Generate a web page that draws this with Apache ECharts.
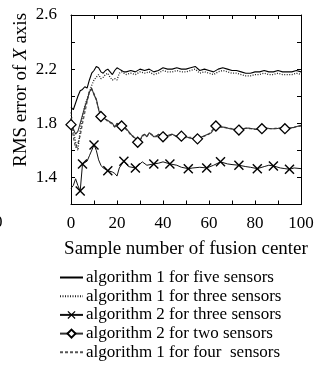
<!DOCTYPE html>
<html><head><meta charset="utf-8">
<script src="https://cdn.jsdelivr.net/npm/echarts@6/dist/echarts.min.js"></script>
<style>html,body{margin:0;padding:0;background:#fff}#c{width:324px;height:371px}</style>
</head><body><div id="c"></div>
<script>
const seriesNames = ['algorithm 1 for five sensors','algorithm 1 for three sensors','algorithm 2 for three sensors','algorithm 2 for two sensors','algorithm 1 for four  sensors'];
const xTickLabels = [0,20,40,60,80,100];
const yTickLabels = [1.4,1.8,2.2,2.6];

const fiveX = [0,1,2,3,4,5,6,7,8,9,10,11,12,13,14,15,16,17,18,19,20,21,22,23,24,26,28,30,32,34,36,38,40,42,44,46,48,50,52,54,56,58,60,62,64,66,68,70,72,74,76,78,80,82,84,86,88,90,92,94,96,98,100];
const fiveY = [1.92,1.90,1.95,2.00,2.04,2.05,2.07,2.06,2.12,2.17,2.19,2.22,2.21,2.18,2.17,2.19,2.20,2.18,2.16,2.19,2.21,2.20,2.19,2.18,2.18,2.19,2.18,2.20,2.19,2.20,2.18,2.19,2.21,2.20,2.20,2.21,2.20,2.20,2.21,2.22,2.19,2.20,2.19,2.18,2.20,2.21,2.20,2.19,2.19,2.18,2.17,2.17,2.18,2.18,2.19,2.18,2.18,2.19,2.18,2.18,2.18,2.19,2.18];

const threeX = fiveX;
const threeY = [1.88,1.75,1.66,1.60,1.75,1.85,1.93,1.98,2.03,2.08,2.12,2.14,2.16,2.13,2.14,2.16,2.17,2.14,2.12,2.13,2.12,2.17,2.18,2.17,2.16,2.17,2.16,2.18,2.17,2.18,2.16,2.17,2.19,2.18,2.18,2.19,2.18,2.18,2.19,2.20,2.17,2.18,2.17,2.16,2.18,2.19,2.18,2.17,2.17,2.16,2.15,2.15,2.16,2.16,2.17,2.16,2.16,2.17,2.16,2.16,2.16,2.17,2.16];

const crossX = [0,1,2,3,4,5,6,7,8,10,11,12,13,14,16,18,19,20,21,23,25,28,30,31,33,36,38,40,43,46,48,51,53,56,59,62,65,68,70,73,76,78,81,84,86,88,91,93,95,97,100];
const crossY = [1.32,1.34,1.39,1.34,1.30,1.50,1.51,1.52,1.56,1.64,1.60,1.53,1.49,1.47,1.45,1.44,1.43,1.41,1.47,1.52,1.48,1.47,1.50,1.515,1.49,1.50,1.505,1.515,1.50,1.49,1.475,1.465,1.47,1.475,1.47,1.49,1.515,1.50,1.495,1.49,1.48,1.475,1.465,1.48,1.49,1.485,1.47,1.465,1.46,1.47,1.465];
const crossMarks = [4,5,10,16,23,28,36,43,51,59,65,73,81,88,95];

const twoX = [0,1,2,3,4,5,6,7,8,9,10,11,12,13,14,15,16,17,18,19,20,21,22,23,24,25,26,27,28,29,30,31,32,33,34,35,36,37,38,39,40,42,44,46,48,50,52,54,55,57,59,61,63,65,67,69,71,73,75,77,79,81,83,85,87,89,91,93,95,97,99,100];
const twoY = [1.79,1.76,1.72,1.74,1.80,1.86,1.92,1.97,2.03,2.06,2.01,1.98,1.90,1.85,1.84,1.83,1.82,1.81,1.80,1.77,1.80,1.79,1.78,1.77,1.76,1.74,1.72,1.70,1.69,1.66,1.67,1.71,1.72,1.70,1.73,1.72,1.70,1.70,1.72,1.71,1.70,1.71,1.72,1.70,1.705,1.70,1.69,1.685,1.685,1.70,1.715,1.73,1.78,1.775,1.77,1.76,1.755,1.75,1.76,1.765,1.76,1.755,1.76,1.765,1.76,1.76,1.765,1.76,1.765,1.77,1.78,1.785];
const twoMarks = [0,13,22,29,40,48,55,63,73,83,93];

const fourX = [0,1,2,3,4,5,6,7,8,9,10,11,12,13,14,15,16,17,18,19,20,21,22,23,24,25,26,27,28,29,30,31,32,33,34,35,36,37,38,39,40,42,44,46,48,50,52,54,56,58,60,62,64,66,68,70,72,74,76,78,80,82,84,86,88,90,92,94,96,98,100];
const fourY = [1.84,1.70,1.62,1.65,1.71,1.80,1.88,1.96,2.04,2.05,2.02,1.97,1.91,1.86,1.845,1.83,1.815,1.805,1.79,1.775,1.795,1.79,1.775,1.765,1.755,1.735,1.715,1.705,1.68,1.67,1.675,1.705,1.715,1.705,1.725,1.715,1.705,1.705,1.715,1.705,1.705,1.705,1.715,1.705,1.70,1.695,1.695,1.69,1.69,1.705,1.72,1.76,1.775,1.77,1.765,1.76,1.75,1.755,1.765,1.76,1.755,1.755,1.765,1.76,1.76,1.765,1.76,1.76,1.765,1.775,1.78];

const FONT = 'Liberation Serif';
const crossPath = 'path://M0,1L1,0L5,4L9,0L10,1L6,5L10,9L9,10L5,6L1,10L0,9L4,5Z';

function pairs(xs, ys){ return xs.map((x,i)=>[x, ys[i]]); }
function marked(xs, ys, marks){
  return xs.map((x,i)=> marks.indexOf(x) >= 0 ? {value:[x, ys[i]]} : {value:[x, ys[i]], symbol:'none'});
}

const chart = echarts.init(document.getElementById('c'), null, {renderer:'canvas'});
const axisLine = {show:true, onZero:false, lineStyle:{color:'#000', width:1}};
const noSym = {opacity:0};
chart.setOption({
  animation:false,
  backgroundColor:'#fff',
  grid:{left:71, right:23, top:15, bottom:166.5, show:false},
  legend:{
    orient:'vertical', left:59, top:269, height:110, padding:0, itemWidth:23, itemHeight:10, itemGap:1.7,
    textStyle:{fontFamily:FONT, fontSize:17, color:'#000', padding:[0,0,0,-2]},
    data:[
      {name:seriesNames[0], itemStyle:noSym},
      {name:seriesNames[1], itemStyle:noSym},
      {name:seriesNames[2]},
      {name:seriesNames[3]},
      {name:seriesNames[4], itemStyle:noSym}
    ], selectedMode:false
  },
  xAxis:[{
    type:'value', min:0, max:100, interval:10, position:'bottom',
    name:'Sample number of fusion center', nameLocation:'middle', nameGap:35,
    nameTextStyle:{fontFamily:FONT, fontSize:19, color:'#000'},
    axisLine:axisLine, axisTick:{show:true, inside:true, length:4, lineStyle:{color:'#000'}},
    axisLabel:{fontFamily:FONT, fontSize:17, color:'#000', margin:11,
      formatter:v=> xTickLabels.indexOf(v)>=0 ? String(v) : ''},
    splitLine:{show:false}
  },{
    type:'value', min:0, max:100, interval:10, position:'top',
    axisLine:axisLine, axisTick:{show:true, inside:true, length:4, lineStyle:{color:'#000'}},
    axisLabel:{show:false}, splitLine:{show:false}
  }],
  yAxis:[{
    type:'value', min:1.2, max:2.6, interval:0.2, position:'left',
    axisLine:axisLine, axisTick:{show:true, inside:true, length:4, lineStyle:{color:'#000'}},
    axisLabel:{fontFamily:FONT, fontSize:17, color:'#000', margin:14,
      formatter:v=> yTickLabels.some(t=>Math.abs(t-v)<1e-6) ? v.toFixed(1) : ''},
    splitLine:{show:false}
  },{
    type:'value', min:1.2, max:2.6, interval:0.2, position:'right',
    axisLine:axisLine, axisTick:{show:true, inside:true, length:4, lineStyle:{color:'#000'}},
    axisLabel:{show:false}, splitLine:{show:false}
  }],
  graphic:[
    {type:'text', left:-6, top:214, style:{text:'0', font:'17px "Liberation Serif"', fill:'#000'}},
    {type:'text', x:21, y:90, rotation:Math.PI/2,
      style:{text:'{a|RMS error of }{i|X}{a| axis}', align:'center', verticalAlign:'middle',
        rich:{a:{fontFamily:FONT, fontSize:19, fill:'#000'}, i:{fontFamily:FONT, fontSize:19, fontStyle:'italic', fill:'#000'}}}}
  ],
  series:[
    {name:seriesNames[4], type:'line', data:pairs(fourX,fourY), symbol:'none',
      lineStyle:{color:'#555', width:1.3, type:[3,2]}, itemStyle:{color:'#555'}, z:2},
    {name:seriesNames[3], type:'line', data:marked(twoX,twoY,twoMarks), symbol:'diamond', symbolSize:10, showSymbol:true,
      lineStyle:{color:'#333', width:1.1}, itemStyle:{color:'#fff', borderColor:'#000', borderWidth:1.3}, z:3},
    {name:seriesNames[2], type:'line', data:marked(crossX,crossY,crossMarks), symbol:crossPath, symbolSize:10, showSymbol:true,
      lineStyle:{color:'#111', width:1}, itemStyle:{color:'#000'}, z:3},
    {name:seriesNames[1], type:'line', data:pairs(threeX,threeY), symbol:'none',
      lineStyle:{color:'#222', width:1.3, type:[1,1.5]}, itemStyle:{color:'#222'}, z:2},
    {name:seriesNames[0], type:'line', data:pairs(fiveX,fiveY), symbol:'none',
      lineStyle:{color:'#000', width:1.1}, itemStyle:{color:'#000'}, z:4}
  ]
});
</script></body></html>
